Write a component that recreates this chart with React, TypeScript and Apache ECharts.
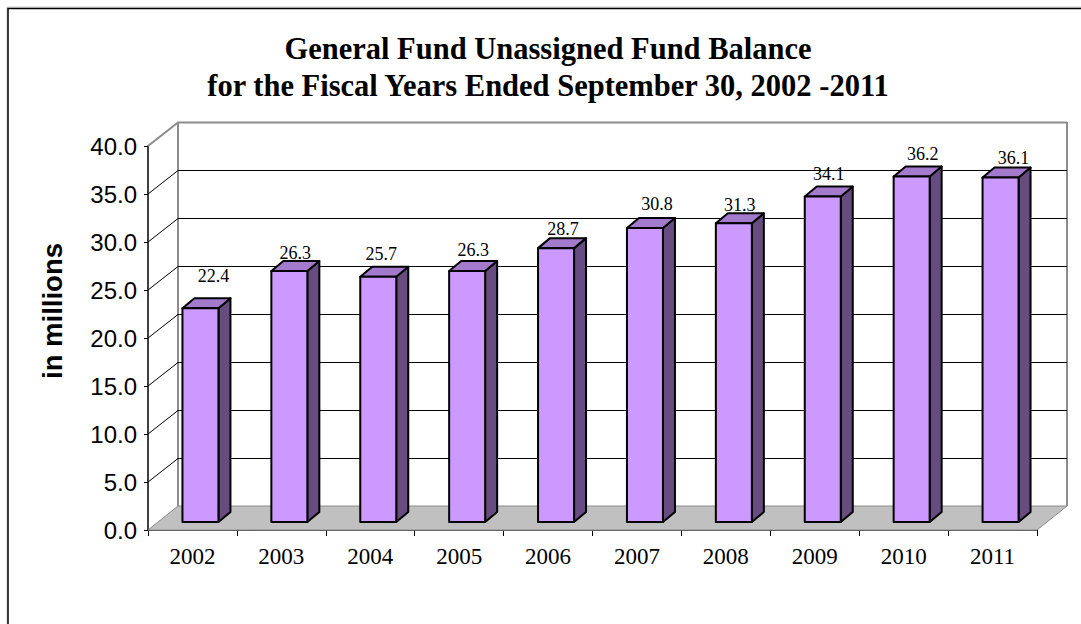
import React, { useEffect, useRef } from "react";
import * as echarts from "echarts";

const years = ["2002", "2003", "2004", "2005", "2006", "2007", "2008", "2009", "2010", "2011"];
const balances = [22.4, 26.3, 25.7, 26.3, 28.7, 30.8, 31.3, 34.1, 36.2, 36.1];
const valueTicks = [0, 5, 10, 15, 20, 25, 30, 35, 40];
const labelLift = [13, -1, 4, 2, 0, 5, -1, 4, 3.5, 1];
const labelShift = [7, 0, -3, 0, 1, 6, 0, 0, 5, 7];

const titleLines = "General Fund Unassigned Fund Balance\nfor the Fiscal Years Ended September 30, 2002 -2011";
const axisName = "in millions";

const SERIF = '"Liberation Serif", serif';
const SANS = '"Liberation Sans", sans-serif';
const WALL_DX = 30;
const WALL_DY = -24;
const BAR_DX = 8;
const BAR_DY = -8;
const BAR_W = 36;
const SIDE_DX = 12;
const SIDE_DY = -10;
const BAR_SCALE = 0.994;
const WALL_GREY = "#8c8c8c";

export default function App() {
  const ref = useRef<HTMLDivElement>(null);
  useEffect(() => {
    const chart = echarts.init(ref.current!, undefined, { renderer: "svg" });
    chart.setOption({
      animation: false,
      backgroundColor: "#ffffff",
      title: {
        text: titleLines,
        left: 543,
        top: 25,
        textAlign: "center",
        textStyle: { fontFamily: SERIF, fontWeight: "bold", fontSize: 30.5, lineHeight: 37, color: "#000" },
      },
      grid: { left: 148, right: 44, top: 146, bottom: 94 },
      xAxis: {
        type: "category",
        data: years,
        boundaryGap: true,
        axisLine: { show: true, lineStyle: { color: "#000", width: 1.5 } },
        axisTick: { show: true, length: 6, alignWithLabel: false, lineStyle: { color: "#000", width: 1 } },
        axisLabel: { fontFamily: SERIF, fontSize: 23, color: "#000", margin: 15, interval: 0 },
        splitLine: { show: false },
      },
      yAxis: {
        type: "value",
        min: 0,
        max: 40,
        interval: 5,
        axisLine: { show: true, lineStyle: { color: "#000", width: 1.5 } },
        axisTick: { show: true, length: 4, lineStyle: { color: "#000", width: 1 } },
        axisLabel: {
          fontFamily: SANS,
          fontSize: 24,
          color: "#000",
          margin: 11,
          formatter: (v: number) => v.toFixed(1),
        },
        splitLine: { show: false },
      },
      series: [
        {
          type: "custom",
          name: "wall",
          silent: true,
          z: 1,
          coordinateSystem: "cartesian2d",
          encode: { x: 0, y: 1 },
          data: valueTicks.map((t) => [0, t]),
          renderItem: (params: any, api: any) => {
            const t = api.value(1);
            const cs = params.coordSys;
            const x0 = cs.x;
            const x1 = cs.x + cs.width;
            const y = api.coord([0, t])[1];
            const children: any[] = [];
            if (t === 0) {
              children.push({
                type: "polygon",
                shape: {
                  points: [
                    [x0, y],
                    [x0 + WALL_DX, y + WALL_DY],
                    [x1 + WALL_DX, y + WALL_DY],
                    [x1, y],
                  ],
                },
                style: { fill: "#c0c0c0", stroke: WALL_GREY, lineWidth: 1 },
              });
              const top = api.coord([0, 40])[1];
              children.push({
                type: "line",
                shape: { x1: x0 + WALL_DX, y1: y + WALL_DY, x2: x0 + WALL_DX, y2: top + WALL_DY },
                style: { stroke: WALL_GREY, lineWidth: 2 },
              });
              children.push({
                type: "line",
                shape: { x1: x1 + WALL_DX, y1: y + WALL_DY, x2: x1 + WALL_DX, y2: top + WALL_DY },
                style: { stroke: WALL_GREY, lineWidth: 2 },
              });
            } else {
              const isTop = t === 40;
              const gy = Math.round(y + WALL_DY) + 0.5;
              children.push({
                type: "polyline",
                shape: {
                  points: [
                    [x0, y],
                    [x0 + WALL_DX, gy],
                    [x1 + WALL_DX, gy],
                  ],
                },
                style: { fill: "none", stroke: isTop ? WALL_GREY : "#000", lineWidth: isTop ? 2 : 1 },
              });
            }
            return { type: "group", children };
          },
        },
        {
          type: "custom",
          name: "Fund Balance",
          z: 3,
          coordinateSystem: "cartesian2d",
          encode: { x: 0, y: 1 },
          data: balances.map((v, i) => [i, v, labelLift[i], labelShift[i]]),
          renderItem: (_params: any, api: any) => {
            const [cx, yTop0] = api.coord([api.value(0), api.value(1)]);
            const yBase0 = api.coord([api.value(0), 0])[1];
            const lift = api.value(2);
            const shift = api.value(3);
            const xl = cx + BAR_DX - BAR_W / 2;
            const xr = xl + BAR_W;
            const yb = yBase0 + BAR_DY;
            const yt = yb - (yBase0 - yTop0) * BAR_SCALE;
            const edge = { stroke: "#000", lineWidth: 2, lineJoin: "round" };
            return {
              type: "group",
              children: [
                {
                  type: "polygon",
                  shape: {
                    points: [
                      [xr, yt],
                      [xr + SIDE_DX, yt + SIDE_DY],
                      [xr + SIDE_DX, yb + SIDE_DY],
                      [xr, yb],
                    ],
                  },
                  style: { fill: "#664c80", ...edge },
                },
                {
                  type: "polygon",
                  shape: {
                    points: [
                      [xl, yt],
                      [xl + SIDE_DX, yt + SIDE_DY],
                      [xr + SIDE_DX, yt + SIDE_DY],
                      [xr, yt],
                    ],
                  },
                  style: { fill: "#a37acc", ...edge },
                },
                {
                  type: "rect",
                  shape: { x: xl, y: yt, width: BAR_W, height: yb - yt },
                  style: { fill: "#cc99ff", ...edge },
                },
                {
                  type: "text",
                  style: {
                    x: xl + (BAR_W + SIDE_DX) / 2 + shift,
                    y: yt + SIDE_DY - lift,
                    text: api.value(1).toFixed(1),
                    fill: "#000",
                    font: `18px ${SERIF}`,
                    align: "center",
                    verticalAlign: "bottom",
                  },
                },
              ],
            };
          },
        },
      ],
      graphic: [
        {
          type: "polyline",
          silent: true,
          shape: { points: [[7, 624], [7, 7], [1081, 7]] },
          style: { fill: "none", stroke: "#c8c8c8", lineWidth: 1 },
        },
        {
          type: "polyline",
          silent: true,
          shape: { points: [[8, 624], [8, 8.5], [1081, 8.5]] },
          style: { fill: "none", stroke: "#000", lineWidth: 1.5 },
        },
        {
          type: "text",
          silent: true,
          x: 52,
          y: 311,
          rotation: Math.PI / 2,
          style: {
            text: axisName,
            fill: "#000",
            font: `bold 27.5px ${SANS}`,
            align: "center",
            verticalAlign: "middle",
          },
        },
      ],
    });
    return () => chart.dispose();
  }, []);
  return <div ref={ref} style={{ position: "fixed", left: 0, top: 0, width: 1081, height: 624 }} />;
}
